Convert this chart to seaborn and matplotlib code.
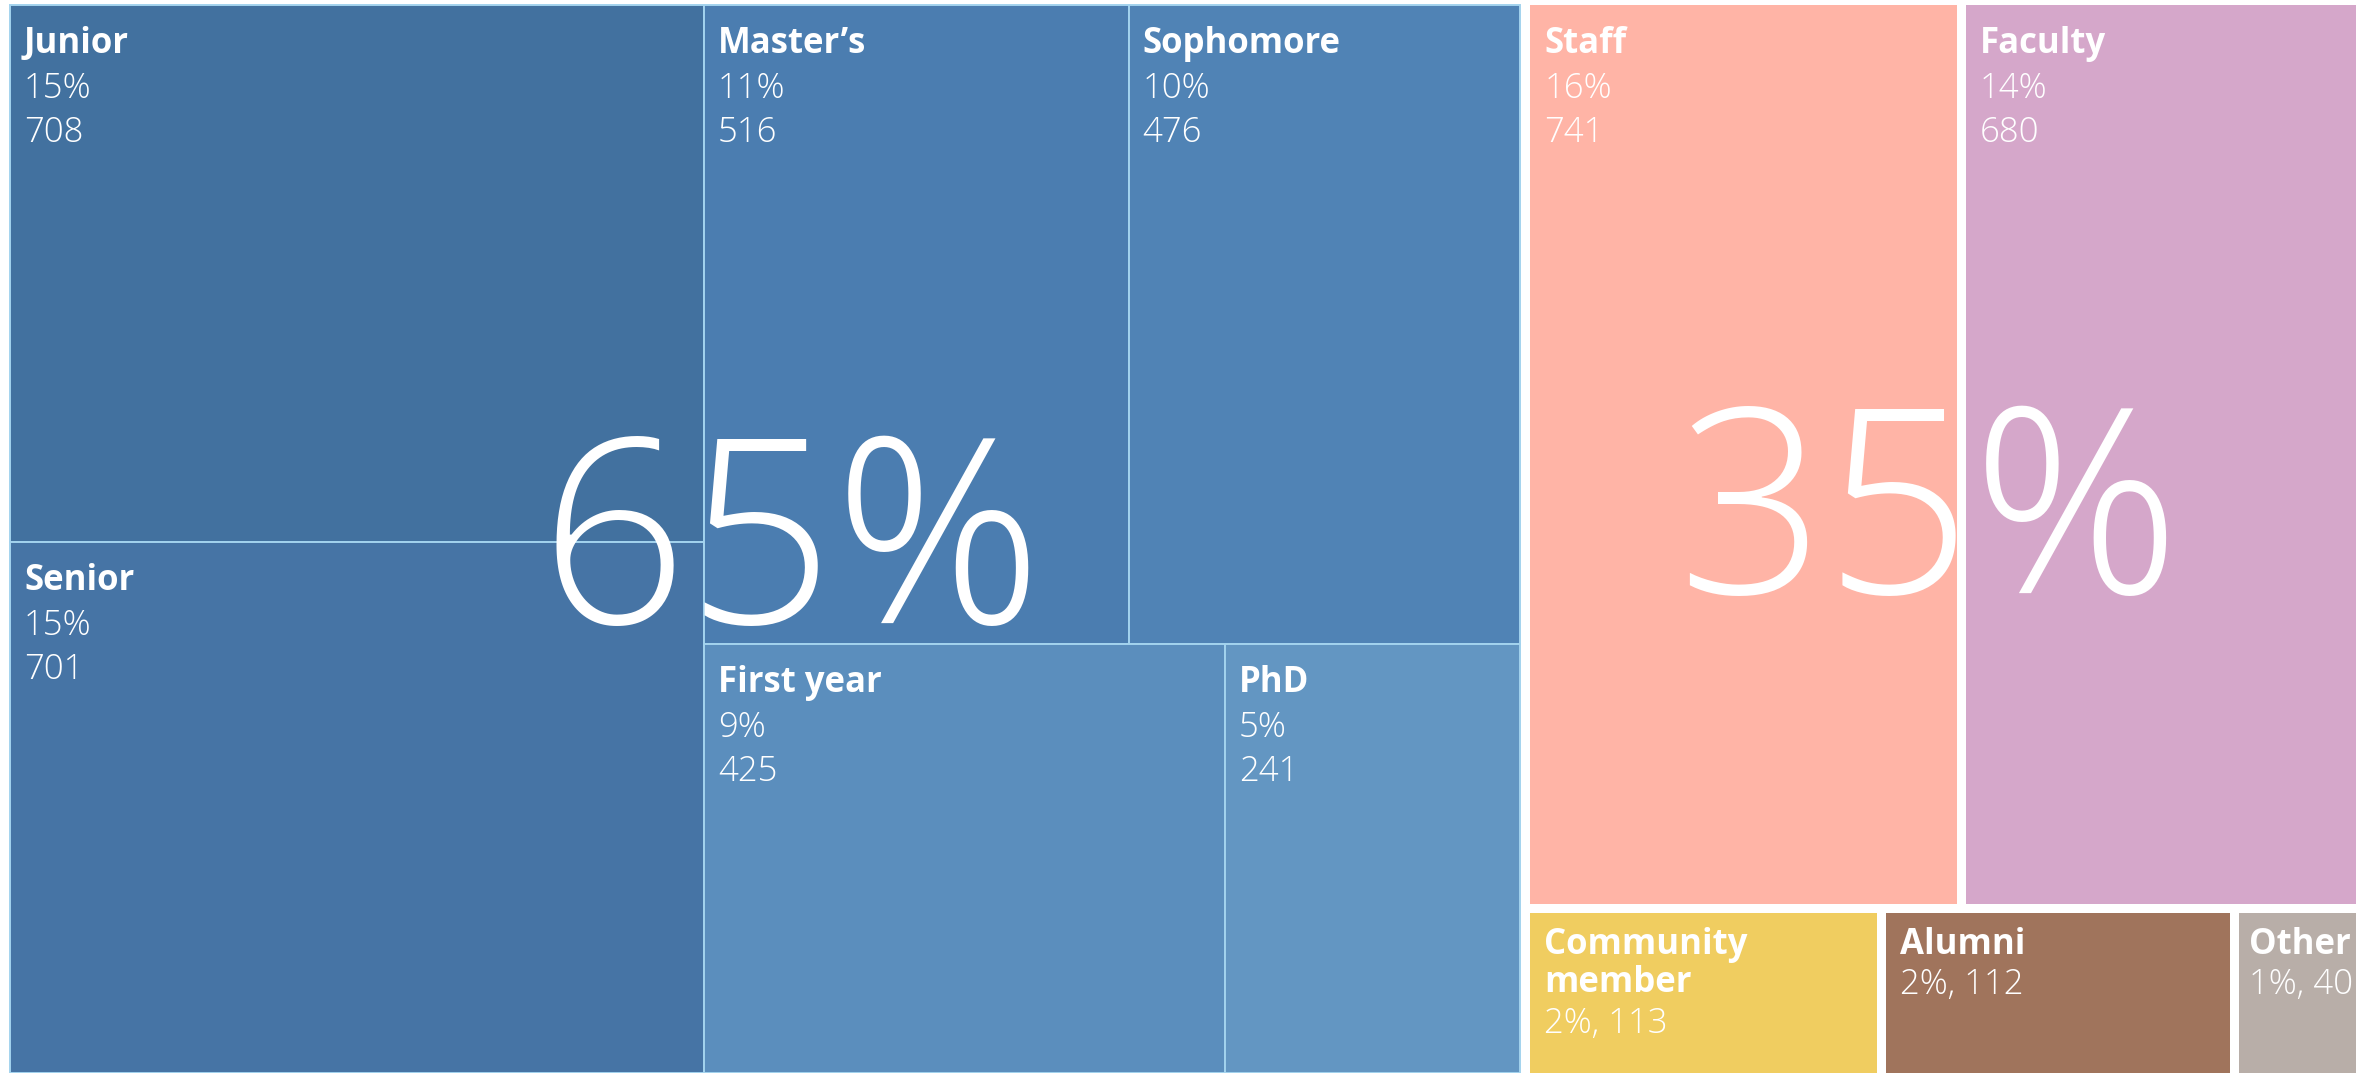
import matplotlib
matplotlib.use("Agg")
import matplotlib.pyplot as plt
from matplotlib.patches import Rectangle
import seaborn as sns

# ---------------- data ----------------
group_names = ["Students", "Non-students"]

student_types = ["Junior", "Senior", "Master\u2019s", "Sophomore", "First year", "PhD"]
student_counts = [708, 701, 516, 476, 425, 241]

other_types = ["Staff", "Faculty", "Community member", "Alumni", "Other"]
other_counts = [741, 680, 113, 112, 40]

# ---------------- style ----------------
student_colors = ["#42719f", "#4674a5", "#4b7db0", "#5083b5", "#5b8ebd", "#6396c2"]
other_colors = ["#ffb4a6", "#d5a7ca", "#f0cd60", "#a0745c", "#b8aea8"]

W, H = 2366, 1073
LABEL_SIZE = 25
NUM_SIZE = 25
BIG_SIZE = 186
# where the big group share sits (x centre, baseline)
big_text_pos = {"Students": (791, 623), "Non-students": (1929, 593)}

sns.set_theme(style="white")
plt.rcParams["font.family"] = ["Open Sans", "DejaVu Sans"]


def worst(row, side):
    thick = sum(row) / side
    return max(max(thick * thick / a, a / (thick * thick)) for a in row)


def squarify(values, x, y, w, h, tol=1.35):
    # squarified treemap, a bit more willing to grow a row than the textbook one
    total = sum(values)
    areas = [v * w * h / total for v in values]
    rects = []
    i = 0
    while i < len(areas):
        side = min(w, h)
        row = [areas[i]]
        j = i + 1
        while j < len(areas) and worst(row + [areas[j]], side) <= worst(row, side) * tol:
            row.append(areas[j])
            j += 1
        thick = sum(row) / side
        pos = 0
        for a in row:
            ln = a / thick
            if w >= h:
                rects.append((x, y + pos, thick, ln))
            else:
                rects.append((x + pos, y, ln, thick))
            pos += ln
        if w >= h:
            x += thick
            w -= thick
        else:
            y += thick
            h -= thick
        i = j
    return rects


fig = plt.figure(figsize=(W / 100, H / 100), dpi=100)
ax = fig.add_axes([0, 0, 1, 1])
ax.set_xlim(0, W)
ax.set_ylim(H, 0)
ax.axis("off")
renderer = fig.canvas.get_renderer()

grand_total = sum(student_counts) + sum(other_counts)
group_rects = squarify([sum(student_counts), sum(other_counts)], 5, 0, 2356, 1078)

groups = [
    (student_types, student_counts, student_colors, 0, "#a3d3ee"),
    (other_types, other_counts, other_colors, 9, None),
]

for gname, (gx, gy, gw, gh), (names, counts, colors, gap, edge) in zip(group_names, group_rects, groups):
    gx, gy, gw, gh = gx + 5, gy + 5, gw - 10, gh - 10
    half = gap / 2
    cells = squarify(counts, gx - half, gy - half, gw + gap, gh + gap)
    for name, n, c, (cx, cy, cw, ch) in zip(names, counts, colors, cells):
        cx, cy, cw, ch = cx + half, cy + half, cw - gap, ch - gap
        ax.add_patch(Rectangle((cx, cy), cw, ch, facecolor=c,
                               edgecolor=edge if edge else "none",
                               linewidth=1.4 if edge else 0))
        pct = f"{round(100 * n / grand_total)}%"
        tx = cx + 14 if cw > 200 else cx + 10
        if ch > 250:
            ax.text(tx, cy + 48, name, color="white", fontsize=LABEL_SIZE,
                    fontweight="bold", va="baseline")
            ax.text(tx, cy + 93, pct, color="white", fontsize=NUM_SIZE,
                    fontweight="light", va="baseline")
            ax.text(tx, cy + 137, f"{n}", color="white", fontsize=NUM_SIZE,
                    fontweight="light", va="baseline")
        else:
            # wrap the label if it does not fit the small cell
            t = ax.text(tx, cy + 41, name, color="white", fontsize=LABEL_SIZE,
                        fontweight="bold", va="baseline")
            lines = [name]
            if t.get_window_extent(renderer).width > cw - 25:
                t.remove()
                lines = name.split(" ")
                for k, line in enumerate(lines):
                    ax.text(tx, cy + 41 + 38 * k, line, color="white",
                            fontsize=LABEL_SIZE, fontweight="bold", va="baseline")
            ax.text(tx, cy + 41 + 39 * len(lines) + 1, f"{pct}, {n}", color="white",
                    fontsize=NUM_SIZE, fontweight="light", va="baseline")

    share = sum(counts) / grand_total
    bx, by = big_text_pos[gname]
    ax.text(bx, by, f"{round(100 * share)}%", color="white", fontsize=BIG_SIZE,
            fontweight="light", ha="center", va="baseline")

fig.savefig("out.png", dpi=100, facecolor="white")
